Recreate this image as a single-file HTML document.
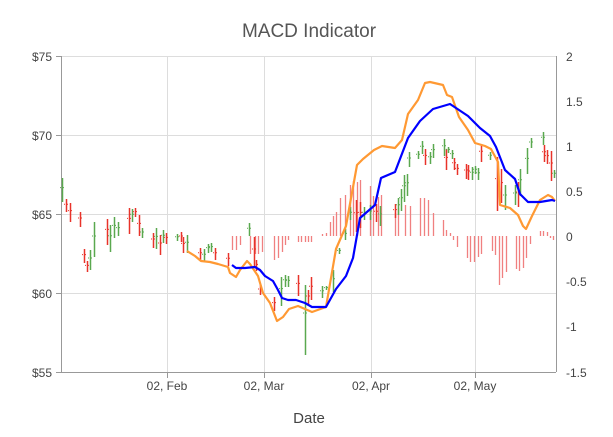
<!DOCTYPE html>
<html><head><meta charset="utf-8"><style>
html,body{margin:0;padding:0;background:#fff;}
svg{display:block;font-family:"Liberation Sans",sans-serif;}
</style></head><body>
<svg id="s" width="613" height="437" xmlns="http://www.w3.org/2000/svg">
<rect width="613" height="437" fill="#fff"/>
<text x="309" y="37" font-size="19" fill="#555" text-anchor="middle">MACD Indicator</text>
<g stroke="#dddddd" stroke-width="1">
<line x1="62" y1="56.5" x2="556" y2="56.5"/>
<line x1="62" y1="135.5" x2="556" y2="135.5"/>
<line x1="62" y1="214.5" x2="556" y2="214.5"/>
<line x1="62" y1="293.5" x2="556" y2="293.5"/>
<line x1="167.5" y1="56" x2="167.5" y2="372"/>
<line x1="264.5" y1="56" x2="264.5" y2="372"/>
<line x1="371.5" y1="56" x2="371.5" y2="372"/>
<line x1="475.5" y1="56" x2="475.5" y2="372"/>
</g>
<g stroke="#999" stroke-width="1">
<line x1="61.5" y1="56" x2="61.5" y2="372"/>
<line x1="556.5" y1="56" x2="556.5" y2="372"/>
<line x1="62" y1="372.5" x2="556" y2="372.5"/>
<line x1="56" y1="56.5" x2="62" y2="56.5"/><line x1="56" y1="135.5" x2="62" y2="135.5"/><line x1="56" y1="214.5" x2="62" y2="214.5"/><line x1="56" y1="293.5" x2="62" y2="293.5"/><line x1="56" y1="372.5" x2="62" y2="372.5"/>
<line x1="167.5" y1="372" x2="167.5" y2="378"/><line x1="264.5" y1="372" x2="264.5" y2="378"/><line x1="371.5" y1="372" x2="371.5" y2="378"/><line x1="475.5" y1="372" x2="475.5" y2="378"/>
</g>
<g font-size="12" fill="#444" text-anchor="end">
<text x="52" y="61">$75</text><text x="52" y="140">$70</text><text x="52" y="219">$65</text><text x="52" y="298">$60</text><text x="52" y="377">$55</text>
</g>
<g font-size="12" fill="#444" text-anchor="start">
<text x="566" y="61">2</text><text x="566" y="106">1.5</text><text x="566" y="151">1</text><text x="566" y="196">0.5</text><text x="566" y="241">0</text><text x="566" y="286">-0.5</text><text x="566" y="331">-1</text><text x="566" y="377">-1.5</text>
</g>
<g font-size="12" fill="#444" text-anchor="middle">
<text x="167" y="390">02, Feb</text><text x="264" y="390">02, Mar</text><text x="371" y="390">02, Apr</text><text x="475" y="390">02, May</text>
</g>
<text x="309" y="423" font-size="15" fill="#444" text-anchor="middle">Date</text>
<g id="h" stroke="#f08080" stroke-width="1.3"></g>
<g id="c" stroke-width="1.5"></g>
<polyline fill="none" stroke="#ff9933" stroke-width="2.2" stroke-linejoin="round" points="187,251 195,256 201,261 210,262 218,264 228,267 230,273 236,277 240,270 247,261 250,264 258,276 263,293 270,303 277,321 283,317 289,309 298,306 305,309 312,312 326,307 336,249 346,226 357,165 363,159 374,150 382,146 395,148 402,140 408,114 418,100 425,83 430,82 443,85 447,95 452,97 459,117 468,130 475,143 485,146 491,149 498,162 500,205 510,208 518,215 523,226 526,229 532,216 540,200 548,195 552,197 555,201"/>
<polyline fill="none" stroke="#0000ff" stroke-width="2.2" stroke-linejoin="round" points="232,265 236,268 245,268 255,267 260,270 265,276 273,281 278,290 282,298 288,300 296,300 305,303 312,307 326,307 336,289 346,276 353,258 360,218 375,205 381,178 395,172 408,138 420,121 433,109 450,104 468,116 480,128 490,136 496,147 505,170 515,179 520,194 528,202 540,202 552,200 555,201"/>
</svg>
<script>
var H=[[232,236,250],[236,236,250],[240,236,245],[250,236,254],[255,236,254],[258,236,254],[262,236,252],[274,236,260],[278,236,258],[282,236,252],[285,236,245],[288,236,240],[298,236,242],[301,236,242],[305,236,242],[308,236,242],[311,236,242],[322,234,236],[326,233,236],[330,222,236],[333,216,236],[336,212,236],[340,198,236],[345,195,236],[350,185,236],[353,181,236],[357,182,236],[360,180,236],[370,186,236],[373,196,236],[378,197,236],[381,195,236],[395,213,236],[398,208,236],[405,205,236],[410,206,236],[420,198,236],[424,198,236],[428,200,236],[433,213,236],[443,220,236],[446,230,236],[450,233,236],[453,236,240],[457,236,247],[467,236,258],[470,236,262],[474,236,262],[478,236,257],[481,236,254],[492,236,251],[495,236,255],[499,236,285],[502,236,278],[506,236,272],[516,236,269],[519,236,271],[523,236,268],[526,236,258],[530,236,244],[540,231,236],[543,231,236],[547,232,236],[550,236,238],[553,236,240]];
var C=[[62,178,202,1],[66,199,212,0],[70,203,222,0],[80,212,227,0],[84,249,263,0],[87,261,272,0],[90,250,270,1],[94,222,257,1],[107,219,245,0],[110,225,252,1],[114,217,238,1],[118,222,236,1],[129,208,234,0],[132,209,222,1],[135,208,217,0],[139,215,236,0],[142,228,238,1],[153,233,248,0],[156,228,249,1],[160,235,255,0],[163,230,243,1],[166,233,244,0],[177,234,241,1],[181,232,242,0],[183,237,253,0],[187,235,253,1],[200,248,260,0],[204,249,262,1],[208,244,253,1],[211,243,252,1],[215,248,260,0],[228,253,266,0],[249,223,236,1],[254,237,267,0],[256,260,271,0],[260,285,295,0],[274,297,311,0],[281,277,306,1],[285,275,287,1],[288,276,287,1],[298,275,296,0],[305,285,355,1],[308,290,305,0],[311,277,300,0],[322,286,298,1],[326,286,290,1],[333,270,292,1],[339,248,254,1],[345,229,240,1],[350,207,220,1],[356,200,232,0],[360,202,228,0],[364,207,220,1],[370,205,220,1],[376,204,222,0],[380,206,226,1],[395,204,218,0],[398,198,215,1],[401,189,211,1],[404,175,202,1],[407,174,196,1],[409,152,167,1],[418,151,159,1],[422,141,154,1],[425,149,165,0],[430,152,164,1],[433,144,158,1],[444,139,156,1],[446,149,170,0],[448,147,153,1],[452,150,159,1],[454,158,170,0],[457,164,175,0],[466,164,179,0],[468,165,180,0],[472,167,180,1],[475,166,174,1],[478,168,180,1],[481,144,162,0],[490,152,160,1],[497,157,211,0],[501,169,203,0],[505,185,210,1],[515,185,205,1],[518,182,207,0],[520,169,196,1],[527,148,174,1],[531,138,148,1],[543,132,145,1],[544,145,162,0],[547,150,164,0],[551,151,181,0],[554,170,178,1]];
var ns="http://www.w3.org/2000/svg",h=document.getElementById('h'),c=document.getElementById('c');
H.forEach(function(b){var l=document.createElementNS(ns,'line');l.setAttribute('x1',b[0]+.5);l.setAttribute('x2',b[0]+.5);l.setAttribute('y1',b[1]);l.setAttribute('y2',b[2]);h.appendChild(l);});
C.forEach(function(b){var col=b[3]?'#5aa84f':'#e8332a';var l=document.createElementNS(ns,'line');l.setAttribute('x1',b[0]+.5);l.setAttribute('x2',b[0]+.5);l.setAttribute('y1',b[1]);l.setAttribute('y2',b[2]);l.setAttribute('stroke',col);c.appendChild(l);
var t=document.createElementNS(ns,'line');var y=b[1]+(b[2]-b[1])*0.4;t.setAttribute('x1',b[0]-2);t.setAttribute('x2',b[0]+3);t.setAttribute('y1',y);t.setAttribute('y2',y);t.setAttribute('stroke',col);t.setAttribute('stroke-width','1');t.setAttribute('stroke-dasharray','1 2');c.appendChild(t);});
</script>
</body></html>
